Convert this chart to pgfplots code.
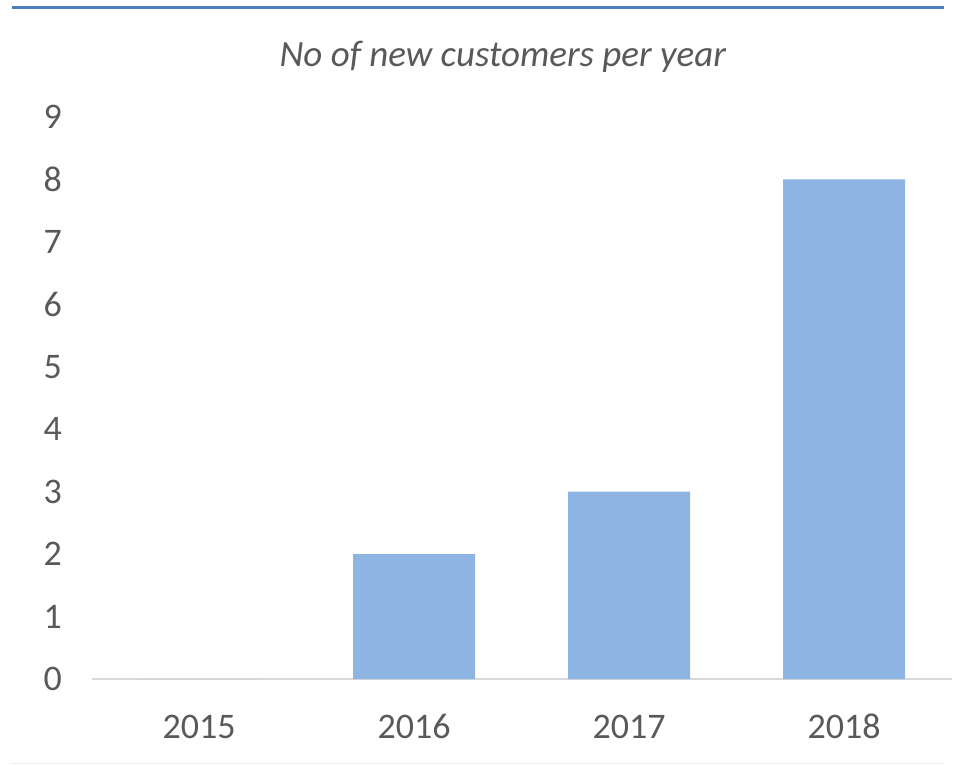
\documentclass[border=0pt]{standalone}
\usepackage{pgfplots}
\pgfplotsset{compat=1.18}
\usepackage{fontspec}
\setmainfont{Carlito}
\definecolor{barblue}{HTML}{8EB4E3}
\definecolor{txtgray}{HTML}{595959}
\definecolor{topblue}{HTML}{4A7EBB}
\definecolor{basegray}{HTML}{D9D9D9}

\begin{document}
\begin{tikzpicture}
\begin{axis}[
    scale only axis,
    width=860pt,
    height=562pt,
    xmin=-0.5, xmax=3.5,
    ymin=0, ymax=9,
    ytick={0,1,...,9},
    xtick=data,
    xticklabels={2015,2016,2017,2018},
    axis x line*=bottom,
    axis y line*=left,
    x axis line style={basegray, line width=1.5pt, -},
    y axis line style={draw=none},
    major tick length=0pt,
    ybar,
    bar width=122pt,
    tick label style={font=\fontsize{36}{43}\selectfont, text=txtgray},
    /pgf/number format/assume math mode=true,
    xticklabel style={anchor=north, text height=26pt, text depth=0pt, yshift=-30pt},
    yticklabel style={xshift=-26pt},
    clip=false,
]
\addplot[fill=barblue, draw=none] coordinates {
    (0, 0)
    (1, 2)
    (2, 3)
    (3, 8)
};
\node[font=\fontsize{37}{44}\selectfont\itshape, text=txtgray]
    at (rel axis cs:0.4783,1.1070) {No of new customers per year};
\draw[topblue, line width=3pt] (rel axis cs:-0.0924,1.1957) -- (rel axis cs:0.9913,1.1957);
\draw[basegray!50, line width=1pt] (rel axis cs:-0.0924,-0.1495) -- (rel axis cs:0.9913,-0.1495);
\coordinate (bl) at (rel axis cs:-0.1064,-0.1530);
\coordinate (tr) at (rel axis cs:1.00291,1.2082);
\end{axis}
\pgfresetboundingbox
\useasboundingbox (bl) rectangle (tr);
\end{tikzpicture}
\end{document}
